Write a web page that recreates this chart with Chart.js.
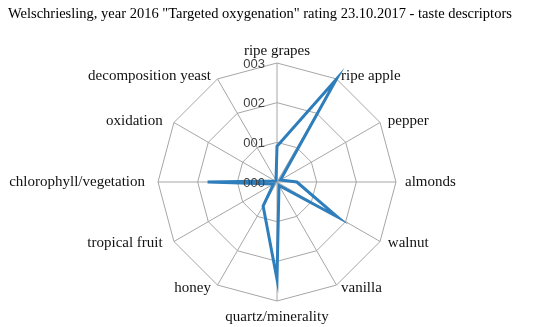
<!DOCTYPE html>
<html>
<head>
<meta charset="utf-8">
<script src="https://cdn.jsdelivr.net/npm/chart.js@4"></script>
<style>
  body { margin: 0; background: #fff; }
  #wrap { width: 550px; height: 327px; }
</style>
</head>
<body>
<div id="wrap"><canvas id="chart"></canvas></div>
<script>
var chartTitle = 'Welschriesling, year 2016 "Targeted oxygenation" rating 23.10.2017 - taste descriptors';
var descriptors = ["ripe grapes", "ripe apple", "pepper", "almonds", "walnut", "vanilla",
    "quartz/minerality", "honey", "tropical fruit", "chlorophyll/vegetation", "oxidation", "decomposition yeast"];
var ratings = [0.9, 3.0, 0.1, 0.5, 1.75, 0.1, 2.45, 0.7, 0.1, 1.75, 0.05, 0.05];
var tickValues = [0, 1, 2, 3];
var tickLabels = ["000", "001", "002", "003"];

// excel style labels: ticks left of the vertical axis, category names centred on the spokes
var labelPlugin = {
    id: 'excelLabels',
    afterDraw: function(chart) {
        var scale = chart.scales.r;
        var ctx = chart.ctx;
        var r = scale.drawingArea;
        ctx.save();
        ctx.font = '13px "Liberation Sans"';
        ctx.fillStyle = '#404040';
        ctx.textAlign = 'right';
        ctx.textBaseline = 'middle';
        for (var i = 0; i < tickValues.length; i++) {
            var d = scale.getDistanceFromCenterForValue(tickValues[i]);
            ctx.fillText(tickLabels[i], scale.xCenter - 12, scale.yCenter - d + 1);
        }
        ctx.font = '15px "Liberation Serif"';
        ctx.fillStyle = '#111';
        for (var j = 0; j < descriptors.length; j++) {
            var top = scale.getPointPosition(j, r);
            if (Math.abs(top.x - scale.xCenter) < 1) {
                ctx.textAlign = 'center';
                if (top.y < scale.yCenter) {
                    ctx.textBaseline = 'bottom';
                    ctx.fillText(descriptors[j], top.x, top.y - 4);
                } else {
                    ctx.textBaseline = 'top';
                    ctx.fillText(descriptors[j], top.x, top.y + 9);
                }
                continue;
            }
            var left = top.x < scale.xCenter;
            var px = scale.getPointPosition(j, r + (left ? 13 : 9));
            var py = scale.getPointPosition(j, r + 3);
            ctx.textAlign = left ? 'right' : 'left';
            ctx.textBaseline = 'middle';
            ctx.fillText(descriptors[j], px.x, py.y);
        }
        ctx.restore();
    }
};

var ctx = document.getElementById("chart").getContext('2d');
var myChart = new Chart(ctx, {
    type: 'radar',
    plugins: [labelPlugin],
    data: {
        labels: descriptors,
        datasets: [{
            data: ratings,
            borderColor: "#2f7ebc",
            backgroundColor: "transparent",
            borderWidth: 3,
            pointRadius: 0,
            fill: false
        }]
    },
    options: {
        responsive: true,
        maintainAspectRatio: false,
        animation: false,
        events: [],
        layout: { padding: { left: 8, right: 4, top: 0, bottom: 26 } },
        plugins: {
            legend: { display: false },
            tooltip: { enabled: false },
            title: {
                display: true,
                text: chartTitle,
                align: 'start',
                color: '#000',
                font: { family: '"Liberation Serif"', size: 14.5, weight: 'normal' },
                padding: { top: 5, bottom: 40.6 }
            }
        },
        scales: {
            r: {
                min: 0,
                max: 3,
                ticks: { stepSize: 1, display: false },
                grid: { color: '#a6a6a6', lineWidth: 1 },
                angleLines: { color: '#a6a6a6', lineWidth: 1 },
                pointLabels: { display: false }
            }
        }
    }
});
</script>
</body>
</html>
